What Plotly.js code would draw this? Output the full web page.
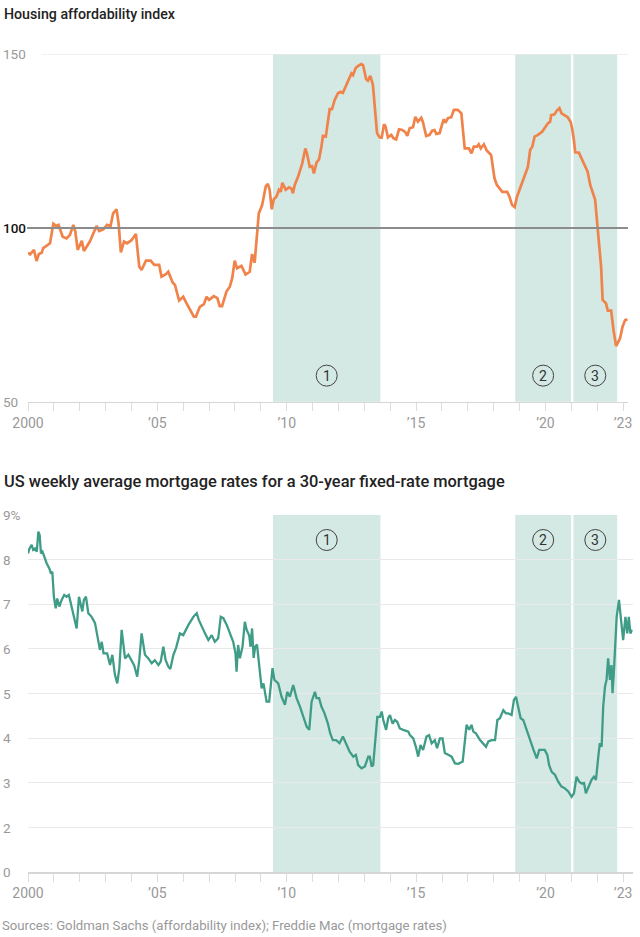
<!DOCTYPE html>
<html>
<head>
<meta charset="utf-8">
<script src="https://cdn.plot.ly/plotly-3.0.1.min.js"></script>
<style>
html,body{margin:0;padding:0;background:#fff;}
#chart{width:640px;height:937px;}
</style>
</head>
<body>
<div id="chart"></div>
<script>
// ---------- DATA ----------
const chartTitle1 = "Housing affordability index";
const chartTitle2 = "US weekly average mortgage rates for a 30-year fixed-rate mortgage";
const sourceText = "Sources: Goldman Sachs (affordability index); Freddie Mac (mortgage rates)";

const affordYears = [2000.00,2000.08,2000.23,2000.33,2000.42,2000.53,2000.59,2000.72,2000.85,2000.98,2001.08,2001.18,2001.34,2001.49,2001.62,2001.75,2001.83,2001.92,2002.08,2002.16,2002.39,2002.65,2002.75,2002.91,2003.06,2003.19,2003.29,2003.42,2003.50,2003.59,2003.71,2003.83,2004.00,2004.17,2004.30,2004.39,2004.56,2004.74,2004.88,2005.07,2005.16,2005.33,2005.42,2005.59,2005.68,2005.84,2006.00,2006.13,2006.28,2006.41,2006.49,2006.64,2006.80,2006.90,2007.00,2007.18,2007.32,2007.41,2007.50,2007.67,2007.80,2007.89,2007.99,2008.08,2008.25,2008.41,2008.57,2008.66,2008.76,2008.83,2008.92,2009.05,2009.19,2009.27,2009.34,2009.42,2009.50,2009.60,2009.70,2009.77,2009.83,2009.96,2010.09,2010.18,2010.24,2010.31,2010.44,2010.60,2010.72,2010.78,2010.89,2010.98,2011.05,2011.15,2011.25,2011.34,2011.40,2011.51,2011.60,2011.66,2011.75,2011.85,2011.98,2012.08,2012.17,2012.30,2012.40,2012.50,2012.56,2012.66,2012.75,2012.88,2012.95,2013.07,2013.14,2013.23,2013.33,2013.40,2013.49,2013.59,2013.67,2013.76,2013.82,2013.91,2014.04,2014.13,2014.23,2014.34,2014.47,2014.59,2014.66,2014.75,2014.88,2014.97,2015.07,2015.20,2015.26,2015.39,2015.52,2015.62,2015.71,2015.78,2015.91,2016.01,2016.07,2016.13,2016.23,2016.36,2016.46,2016.61,2016.75,2016.81,2016.88,2017.04,2017.14,2017.23,2017.35,2017.42,2017.50,2017.62,2017.73,2017.90,2018.03,2018.12,2018.25,2018.33,2018.52,2018.61,2018.71,2018.81,2018.90,2019.06,2019.19,2019.32,2019.41,2019.49,2019.58,2019.71,2019.87,2020.00,2020.09,2020.18,2020.22,2020.35,2020.44,2020.54,2020.62,2020.73,2020.86,2020.97,2021.03,2021.10,2021.15,2021.29,2021.42,2021.54,2021.63,2021.73,2021.83,2021.92,2022.00,2022.08,2022.15,2022.21,2022.34,2022.41,2022.54,2022.63,2022.73,2022.88,2022.98,2023.08,2023.17];
const affordIndex = [92.9,92.4,93.7,90.5,92.5,92.9,94.2,94.8,95.6,101.2,100.6,100.9,97.5,97.0,98.0,100.9,98.9,93.7,96.3,93.4,96.1,100.6,99.1,99.6,100.9,100.6,104.2,105.4,101.4,93.0,96.1,95.6,96.5,98.3,88.9,87.9,90.6,90.6,89.4,89.4,86.0,86.7,87.4,84.3,83.6,79.1,80.2,78.3,76.4,74.5,74.5,77.3,78.1,80.2,79.3,80.4,79.8,77.5,77.5,81.7,83.1,85.5,90.6,88.4,89.1,86.6,87.4,92.5,90.0,97.5,104.2,106.6,112.0,112.7,111.0,105.4,108.3,109.0,111.0,110.4,113.0,111.0,111.7,111.4,110.0,112.4,114.8,118.6,122.9,121.5,117.6,117.8,115.7,118.8,119.8,123.4,126.5,126.3,130.6,134.2,134.2,136.8,138.8,139.2,138.9,141.2,142.6,144.5,144.0,146.0,146.6,147.2,146.9,142.8,142.4,143.8,141.2,134.0,127.3,126.1,126.0,129.9,129.2,126.1,126.8,125.8,125.5,128.4,128.2,127.5,126.5,128.7,129.0,132.0,130.6,131.7,130.6,126.5,126.8,128.0,128.2,127.1,127.3,130.0,131.3,130.3,131.6,131.9,134.0,134.0,133.0,128.2,122.9,122.9,121.5,123.4,123.4,124.1,122.9,124.1,122.3,121.0,114.3,112.4,111.1,110.4,110.4,109.0,106.6,106.0,109.0,112.4,115.0,117.6,122.5,123.4,126.3,126.8,127.7,129.2,130.1,130.6,132.5,132.7,133.8,134.5,133.0,132.5,131.9,130.6,128.7,125.3,121.8,121.7,119.4,117.8,116.2,112.4,110.4,108.1,101.4,94.6,88.9,79.3,78.3,76.2,76.2,70.6,66.0,68.2,71.6,73.5,73.7];

const rateYears = [2000.00,2000.06,2000.14,2000.20,2000.27,2000.34,2000.40,2000.45,2000.50,2000.56,2000.63,2000.72,2000.82,2000.89,2000.94,2001.00,2001.07,2001.13,2001.21,2001.30,2001.40,2001.49,2001.58,2001.66,2001.75,2001.88,2001.97,2002.04,2002.10,2002.16,2002.24,2002.33,2002.46,2002.59,2002.72,2002.78,2002.85,2002.92,2003.06,2003.17,2003.26,2003.36,2003.45,2003.53,2003.62,2003.68,2003.75,2003.88,2004.00,2004.10,2004.22,2004.30,2004.39,2004.45,2004.52,2004.65,2004.78,2004.90,2005.04,2005.13,2005.23,2005.32,2005.42,2005.50,2005.62,2005.72,2005.87,2006.00,2006.20,2006.39,2006.52,2006.60,2006.71,2006.84,2006.97,2007.10,2007.22,2007.35,2007.45,2007.55,2007.68,2007.80,2007.93,2008.02,2008.06,2008.12,2008.19,2008.29,2008.38,2008.45,2008.55,2008.60,2008.66,2008.72,2008.78,2008.85,2008.90,2008.96,2009.03,2009.10,2009.16,2009.22,2009.32,2009.40,2009.45,2009.52,2009.67,2009.80,2009.93,2010.02,2010.12,2010.25,2010.38,2010.51,2010.64,2010.77,2010.87,2010.96,2011.09,2011.15,2011.25,2011.34,2011.46,2011.59,2011.68,2011.78,2011.91,2012.04,2012.17,2012.30,2012.43,2012.57,2012.67,2012.76,2012.89,2013.02,2013.15,2013.21,2013.28,2013.34,2013.41,2013.50,2013.60,2013.67,2013.73,2013.84,2013.92,2013.99,2014.09,2014.18,2014.27,2014.37,2014.50,2014.70,2014.76,2014.89,2014.99,2015.08,2015.17,2015.27,2015.40,2015.50,2015.60,2015.72,2015.81,2015.92,2016.02,2016.11,2016.24,2016.37,2016.50,2016.63,2016.80,2016.89,2016.95,2017.05,2017.14,2017.21,2017.31,2017.47,2017.59,2017.70,2017.79,2017.92,2018.05,2018.14,2018.24,2018.37,2018.47,2018.56,2018.69,2018.78,2018.86,2018.95,2019.04,2019.14,2019.27,2019.40,2019.47,2019.53,2019.66,2019.76,2019.89,2019.97,2020.07,2020.14,2020.24,2020.37,2020.49,2020.62,2020.75,2020.88,2021.01,2021.10,2021.20,2021.30,2021.40,2021.49,2021.56,2021.65,2021.78,2021.87,2021.95,2022.04,2022.10,2022.17,2022.23,2022.30,2022.36,2022.42,2022.49,2022.55,2022.59,2022.64,2022.68,2022.75,2022.84,2022.93,2023.00,2023.09,2023.16,2023.22,2023.28,2023.35];
const rateValues = [8.14,8.25,8.33,8.22,8.25,8.18,8.63,8.55,8.14,8.18,8.07,7.92,7.81,7.69,7.73,7.17,6.91,7.13,6.95,7.10,7.21,7.17,7.21,7.02,6.76,6.46,7.17,7.02,6.84,7.10,7.17,6.80,6.72,6.58,6.20,5.98,6.16,5.90,5.90,5.64,5.87,5.42,5.23,5.57,6.43,6.05,5.79,5.87,5.75,5.64,5.38,5.75,6.35,6.10,5.87,5.79,5.68,5.75,5.64,5.72,6.05,5.75,5.61,5.55,5.87,6.02,6.35,6.31,6.54,6.72,6.80,6.65,6.50,6.35,6.20,6.31,6.16,6.24,6.72,6.69,6.54,6.35,6.16,5.90,5.49,6.09,5.79,6.05,6.61,6.43,6.30,6.05,6.46,5.80,6.05,6.10,5.83,5.38,5.12,5.23,5.01,4.82,4.82,5.27,5.57,5.31,5.23,4.93,4.75,5.04,4.93,5.19,4.90,4.71,4.48,4.26,4.19,4.82,5.04,4.90,4.90,4.71,4.56,4.33,4.11,3.96,3.96,3.89,4.04,3.85,3.70,3.59,3.63,3.40,3.33,3.37,3.59,3.59,3.37,3.40,3.96,4.48,4.48,4.60,4.41,4.19,4.45,4.52,4.33,4.41,4.37,4.22,4.19,4.15,4.07,4.00,3.81,3.59,3.85,3.74,4.04,4.07,3.89,3.96,3.78,4.00,4.00,3.67,3.63,3.59,3.44,3.43,3.48,3.96,4.30,4.19,4.30,4.15,4.11,3.96,3.89,3.81,3.93,3.96,3.96,4.41,4.45,4.63,4.56,4.56,4.52,4.86,4.93,4.71,4.45,4.41,4.19,3.96,3.81,3.75,3.55,3.74,3.74,3.74,3.63,3.40,3.25,3.18,3.03,2.92,2.88,2.81,2.69,2.77,3.14,3.03,2.99,3.00,2.77,2.88,3.07,3.14,3.07,3.59,3.89,3.81,4.71,5.16,5.31,5.79,5.31,5.64,5.01,5.46,6.05,6.72,7.10,6.58,6.20,6.72,6.35,6.72,6.35,6.43];

const periodStarts = [2009.47, 2018.83, 2021.08];
const periodEnds   = [2013.62, 2020.99, 2022.77];
const periodLabels = ["1", "2", "3"];

const xTickYears  = [2000,2001,2002,2003,2004,2005,2006,2007,2008,2009,2010,2011,2012,2013,2014,2015,2016,2017,2018,2019,2020,2021,2022,2023];
const xTickLabels = ["2000","","","","","\u201905","","","","","\u201910","","","","","\u201915","","","","","\u201920","","","\u201923"];

const yTicks1 = [150, 100, 50];
const yLabels1 = ["150", "100", "50"];
const yTicks2 = [1, 2, 3, 4, 5, 6, 7, 8, 9];
const yLabels2 = ["0", "2", "3", "4", "5", "6", "7", "8", "9%"];

// ---------- STYLE ----------
const W = 640, H = 937;
const FONT = "Roboto, 'Noto Sans', sans-serif";
const shade = "#d4e8e4";
const orange = "#f0834a";
const teal = "#3f9c87";
const px = v => v / W;
const py = v => 1 - v / H;

const traces = [
  {x: affordYears, y: affordIndex, xaxis: "x", yaxis: "y", type: "scatter", mode: "lines",
   line: {color: orange, width: 2.7}, hoverinfo: "skip"},
  {x: rateYears, y: rateValues, xaxis: "x2", yaxis: "y2", type: "scatter", mode: "lines",
   line: {color: teal, width: 2.3}, hoverinfo: "skip"}
];

const shapes = [];
const annotations = [];

periodStarts.forEach((s, i) => {
  const e = periodEnds[i];
  const mid = (s + e) / 2;
  [["x", "y", 57.5], ["x2", "y2", 8.44]].forEach(([xr, yr, yv]) => {
    shapes.push({type: "rect", xref: xr, yref: yr + " domain", x0: s, x1: e, y0: 0, y1: 1,
      fillcolor: shade, line: {width: 0}, layer: "below"});
    shapes.push({type: "circle", xref: xr, yref: yr, xsizemode: "pixel", ysizemode: "pixel",
      xanchor: mid, yanchor: yv, x0: -10.5, x1: 10.5, y0: -10.5, y1: 10.5,
      line: {color: "#444", width: 1}, layer: "above"});
    annotations.push({xref: xr, yref: yr, x: mid, y: yv, text: periodLabels[i], showarrow: false,
      font: {family: FONT, size: 14, color: "#333"}, xanchor: "center", yanchor: "middle"});
  });
});

shapes.push({type: "line", xref: "paper", yref: "y", x0: px(42), x1: px(628), y0: 150, y1: 150,
  line: {color: "#e6e6e6", width: 1}, layer: "below"});
shapes.push({type: "line", xref: "paper", yref: "y", x0: px(27), x1: px(628), y0: 100, y1: 100,
  line: {color: "#8c8c8c", width: 1.8}, layer: "above"});

yTicks1.forEach((v, i) => {
  const dark = v === 100;
  annotations.push({xref: "paper", yref: "y", x: px(1), y: v, text: yLabels1[i], showarrow: false,
    xanchor: "left", yanchor: "middle",
    font: {family: FONT, size: 13.5, color: dark ? "#111" : "#999", weight: dark ? 500 : 400}});
});
yTicks2.forEach((v, i) => {
  annotations.push({xref: "paper", yref: "y2", x: px(1), y: v, text: yLabels2[i], showarrow: false,
    xanchor: "left", yanchor: "middle", font: {family: FONT, size: 13.5, color: "#999"}});
});

annotations.push({xref: "paper", yref: "paper", x: px(2), y: py(14), text: chartTitle1, showarrow: false,
  xanchor: "left", yanchor: "middle", font: {family: FONT, size: 14.2, color: "#222", weight: 500}});
annotations.push({xref: "paper", yref: "paper", x: px(2), y: py(481), text: chartTitle2, showarrow: false,
  xanchor: "left", yanchor: "middle", font: {family: FONT, size: 16.4, color: "#222", weight: 500}});
annotations.push({xref: "paper", yref: "paper", x: px(0), y: py(925), text: sourceText, showarrow: false,
  xanchor: "left", yanchor: "middle", font: {family: FONT, size: 13.2, color: "#999"}});

const xCommon = {
  tickvals: xTickYears, ticktext: xTickLabels, ticks: "outside", ticklen: 8, tickcolor: "#dcdcdc",
  tickwidth: 1, showline: true, linecolor: "#d6d6d6", linewidth: 1.2, showgrid: false, zeroline: false,
  tickfont: {family: FONT, size: 14, color: "#999"}, fixedrange: true
};

const layout = {
  width: W, height: H,
  margin: {l: 0, r: 0, t: 0, b: 0},
  paper_bgcolor: "#fff", plot_bgcolor: "rgba(0,0,0,0)",
  showlegend: false,
  xaxis: Object.assign({}, xCommon, {domain: [px(28), px(628)], range: [2000, 2023.19], anchor: "y"}),
  yaxis: {domain: [py(401.7), py(54.3)], range: [50, 150], showgrid: false, zeroline: false,
    showticklabels: false, ticks: "", anchor: "x", fixedrange: true},
  xaxis2: Object.assign({}, xCommon, {domain: [px(28), px(632.7)], range: [2000, 2023.37], anchor: "y2"}),
  yaxis2: {domain: [py(872.3), py(515)], range: [1, 9], tickvals: [2,3,4,5,6,7,8,9], showgrid: true,
    gridcolor: "#e9e9e9", gridwidth: 1, zeroline: false, showticklabels: false, ticks: "", anchor: "x2",
    fixedrange: true},
  shapes: shapes,
  annotations: annotations
};

Plotly.newPlot("chart", traces, layout, {displayModeBar: false, staticPlot: true});
</script>
</body>
</html>
